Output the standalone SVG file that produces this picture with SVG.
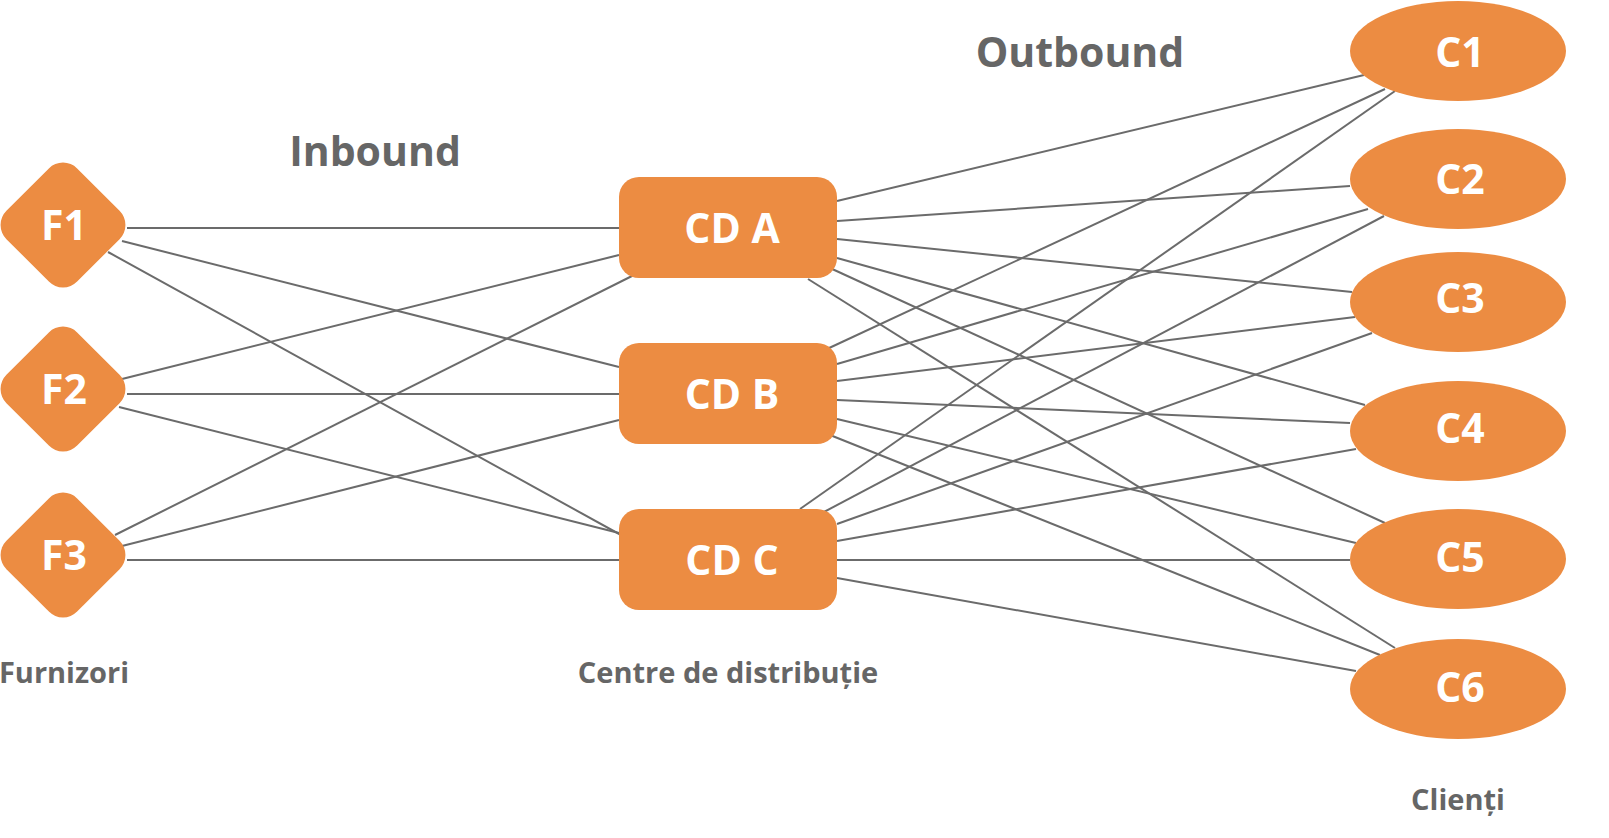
<svg xmlns="http://www.w3.org/2000/svg" width="1609" height="838" viewBox="0 0 1609 838">
<style>
.n{fill:#EC8C42}
.nt{fill:#fff;font-family:"Open Sans","Noto Sans","Liberation Sans",sans-serif;font-weight:700;font-size:41px;text-anchor:middle;dominant-baseline:central}
.lb{fill:#666;font-family:"Open Sans","Noto Sans","Liberation Sans",sans-serif;font-weight:700;text-anchor:middle}
#connectors line{stroke:#6b6b6b;stroke-width:2}
</style>
<rect width="1609" height="838" fill="#fff"/>
<g id="connectors">
<line x1="127" y1="228" x2="619" y2="228"/>
<line x1="122" y1="241" x2="619" y2="367"/>
<line x1="108" y1="252" x2="630" y2="540"/>
<line x1="122" y1="379" x2="619" y2="255"/>
<line x1="127" y1="394" x2="619" y2="394"/>
<line x1="119" y1="407" x2="619" y2="533"/>
<line x1="115" y1="535" x2="634" y2="275"/>
<line x1="122" y1="546" x2="619" y2="420"/>
<line x1="127" y1="560" x2="619" y2="560"/>
<line x1="837" y1="201" x2="1364" y2="75"/>
<line x1="837" y1="221" x2="1350" y2="186"/>
<line x1="837" y1="239" x2="1352" y2="292"/>
<line x1="837" y1="258" x2="1365" y2="405"/>
<line x1="830" y1="268" x2="1385" y2="523"/>
<line x1="808" y1="279" x2="1395" y2="648"/>
<line x1="827" y1="349" x2="1385" y2="89"/>
<line x1="837" y1="364" x2="1368" y2="209"/>
<line x1="837" y1="381" x2="1355" y2="317"/>
<line x1="837" y1="400" x2="1350" y2="423"/>
<line x1="837" y1="419" x2="1356" y2="543"/>
<line x1="830" y1="435" x2="1380" y2="655"/>
<line x1="800" y1="509" x2="1395" y2="91"/>
<line x1="822" y1="513" x2="1384" y2="216"/>
<line x1="837" y1="524" x2="1372" y2="333"/>
<line x1="837" y1="541" x2="1356" y2="449"/>
<line x1="837" y1="560" x2="1350" y2="560"/>
<line x1="837" y1="578" x2="1356" y2="671"/>
</g>
<g id="F1"><rect class="n" x="13" y="175" width="100" height="100" rx="20" transform="rotate(45 63 225)"/><text class="nt" x="64" y="224">F1</text></g>
<g id="F2"><rect class="n" x="13" y="339" width="100" height="100" rx="20" transform="rotate(45 63 389)"/><text class="nt" x="64" y="388">F2</text></g>
<g id="F3"><rect class="n" x="13" y="505" width="100" height="100" rx="20" transform="rotate(45 63 555)"/><text class="nt" x="64" y="554">F3</text></g>
<g id="CDA"><rect class="n" x="619" y="177" width="218" height="101" rx="20"/><text class="nt" x="732" y="227">CD A</text></g>
<g id="CDB"><rect class="n" x="619" y="343" width="218" height="101" rx="20"/><text class="nt" x="732" y="393">CD B</text></g>
<g id="CDC"><rect class="n" x="619" y="509" width="218" height="101" rx="20"/><text class="nt" x="732" y="559">CD C</text></g>
<g id="C1"><ellipse class="n" cx="1458" cy="51" rx="108" ry="50"/><text class="nt" x="1460" y="51">C1</text></g>
<g id="C2"><ellipse class="n" cx="1458" cy="179" rx="108" ry="50"/><text class="nt" x="1460" y="178">C2</text></g>
<g id="C3"><ellipse class="n" cx="1458" cy="302" rx="108" ry="50"/><text class="nt" x="1460" y="297">C3</text></g>
<g id="C4"><ellipse class="n" cx="1458" cy="431" rx="108" ry="50"/><text class="nt" x="1460" y="427">C4</text></g>
<g id="C5"><ellipse class="n" cx="1458" cy="559" rx="108" ry="50"/><text class="nt" x="1460" y="556">C5</text></g>
<g id="C6"><ellipse class="n" cx="1458" cy="689" rx="108" ry="50"/><text class="nt" x="1460" y="686">C6</text></g>
<g id="labels">
<text class="lb" x="375" y="166" font-size="41">Inbound</text>
<text class="lb" x="1080" y="67" font-size="41">Outbound</text>
<text class="lb" x="64" y="683" font-size="29">Furnizori</text>
<text class="lb" x="728" y="683" font-size="29">Centre de distribuție</text>
<text class="lb" x="1458" y="810" font-size="29">Clienți</text>
</g>
</svg>
